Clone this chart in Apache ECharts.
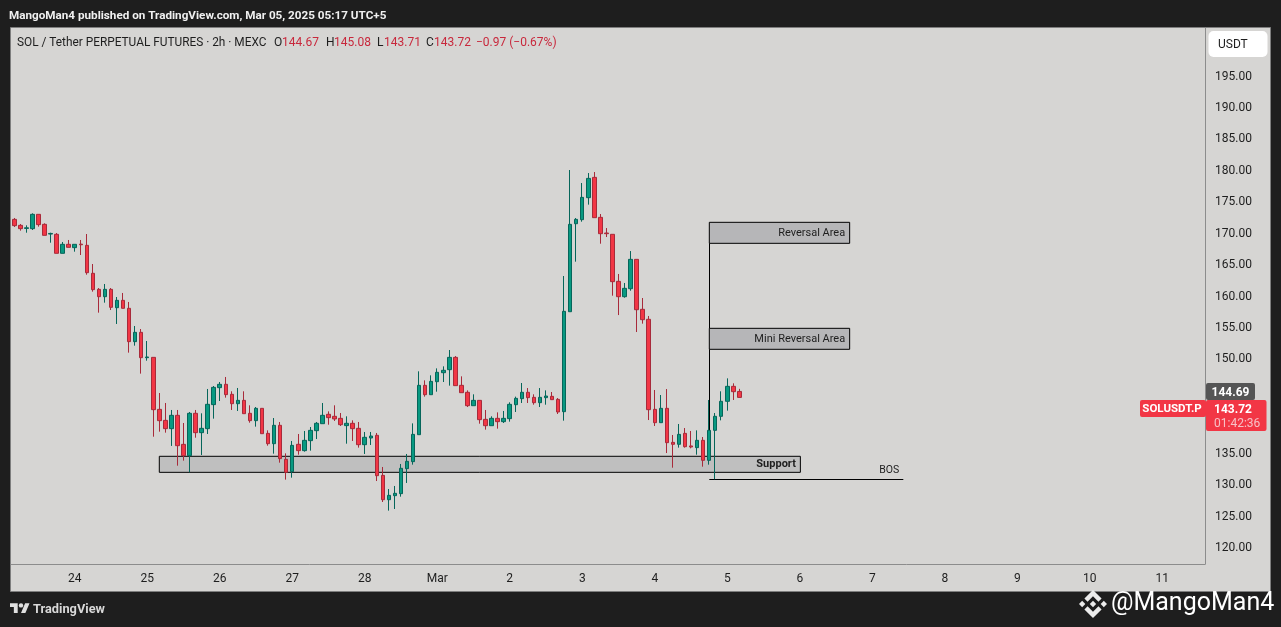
<!DOCTYPE html>
<html><head><meta charset="utf-8">
<style>html,body{margin:0;padding:0;background:#1e1e1e;overflow:hidden}#c{width:1281px;height:627px}</style>
<script src="https://cdn.jsdelivr.net/npm/echarts@6/dist/echarts.min.js"></script>
</head><body><div id="c"></div>
<script>
const opens=[172.04,171.09,170.6,170.56,172.84,171.25,169.7,169.66,166.64,168.07,167.54,168.1,167.91,163.46,160.91,159.74,160.91,157.99,159.16,157.89,152.59,154.07,150.04,150.09,141.82,140.07,138.75,140.87,136.25,134.45,141.19,138.11,138.75,142.57,145.27,145.8,144.21,142.72,143.25,141.19,140.02,141.98,138.0,136.36,139.28,133.87,131.91,136.26,135.25,136.84,138.43,139.54,141.03,140.71,140.39,139.23,139.6,138.8,136.2,137.26,137.69,131.32,127.45,128.09,128.41,132.39,133.5,137.79,145.64,144.15,146.22,147.65,148.13,150.09,145.64,144.53,142.4,143.25,140.23,139.22,140.39,139.86,140.34,142.56,143.52,144.53,143.73,142.88,143.68,143.89,143.41,141.45,157.35,171.35,171.99,175.49,178.72,172.36,169.87,169.66,162.18,159.74,161.01,165.68,157.73,156.14,141.82,139.7,141.98,136.57,136.26,138.0,136.0,135.73,136.89,133.71,138.48,140.71,143.1,145.48,144.67];
const closes=[171.04,170.56,170.7,172.84,171.2,169.5,169.8,166.64,168.07,167.59,168.07,168.0,163.56,160.86,159.74,160.91,158.05,159.16,157.89,152.59,154.07,150.04,150.15,141.77,140.02,138.75,140.87,136.04,134.45,141.19,138.11,138.8,142.62,145.32,145.8,144.16,142.72,143.25,141.13,140.02,141.98,137.95,136.36,139.28,133.98,131.8,136.09,135.25,136.89,138.48,139.6,140.87,140.5,140.29,139.38,139.6,138.75,136.2,137.37,137.58,131.27,127.45,128.14,128.46,132.44,133.55,137.84,145.64,144.15,146.27,147.71,148.03,150.09,145.59,144.47,142.4,143.25,140.18,139.22,140.39,139.86,140.39,142.62,143.57,144.53,143.68,142.88,143.73,143.94,143.36,141.4,157.41,171.25,172.04,175.54,178.56,172.31,169.76,169.76,162.13,159.74,161.07,165.68,157.67,156.08,141.77,139.7,141.98,136.52,136.26,137.84,135.88,135.83,136.89,133.71,138.48,140.71,143.1,145.48,144.63,143.72];
const lows=[170.83,170.24,169.92,170.35,170.88,169.5,168.33,166.64,166.64,167.59,166.9,166.37,163.24,160.54,157.2,158.79,157.62,155.4,157.89,150.84,151.95,147.5,149.56,137.47,138.27,138.11,136.0,132.86,133.66,131.8,137.31,134.56,137.9,140.34,143.15,143.68,141.72,141.56,141.13,139.7,139.07,137.95,136.04,134.77,133.34,130.64,130.95,134.61,135.09,135.25,137.1,139.54,139.38,139.97,139.17,136.36,136.79,135.73,134.72,136.15,130.42,127.08,125.71,125.97,127.93,130.11,133.02,137.79,143.84,144.15,144.63,146.17,145.59,145.59,144.47,142.19,142.4,139.54,138.59,139.22,138.75,139.65,139.86,141.4,142.83,142.83,142.56,142.19,142.56,143.36,141.08,140.02,157.35,165.31,171.67,174.38,172.31,168.17,169.23,159.9,156.82,159.58,160.69,154.12,155.45,140.12,139.17,139.7,134.87,132.54,135.73,135.73,135.62,134.61,132.7,133.02,130.69,140.07,141.61,143.31,143.71];
const highs=[172.26,171.3,171.09,173.0,172.84,171.41,169.92,169.87,168.44,168.76,168.07,168.76,169.71,164.94,161.12,161.76,161.12,159.69,160.33,158.9,155.08,154.6,152.69,150.09,144.42,142.83,141.72,141.72,139.65,141.4,141.72,141.19,145.06,145.53,146.17,146.97,144.69,145.22,144.69,142.46,142.19,141.98,138.48,140.44,139.81,134.82,136.79,137.9,138.38,139.01,139.81,142.83,141.5,142.46,141.24,140.71,140.07,139.81,138.22,138.22,138.06,132.65,129.15,129.63,133.13,134.72,139.59,147.87,146.43,147.23,148.34,148.66,151.26,150.3,147.07,144.84,144.21,143.25,141.72,140.71,141.34,141.56,142.94,143.84,146.01,145.21,144.21,145.21,144.84,144.58,143.62,163.03,179.89,172.25,177.82,179.41,179.57,172.89,170.66,169.66,163.35,161.92,167.0,165.68,159.53,156.67,144.9,144.1,145.05,137.74,139.49,138.85,138.38,138.48,137.42,143.31,141.24,144.69,146.75,145.96,145.08];
const dayTicks=[10,22,34,46,58,70,82,94,106,118,130,142,154,166,178,190];
const dayLabels=['24','25','26','27','28','Mar','2','3','4','5','6','7','8','9','10','11'];
const priceTicks=[120,125,130,135,150,155,160,165,170,175,180,185,190,195];
const support={name:'Support',x:[24,130.1],y:[131.8,134.35]};
const reversal={name:'Reversal Area',x:[115.03,138.26],y:[168.23,171.57]};
const miniReversal={name:'Mini Reversal Area',x:[115.03,138.26],y:[151.37,154.71]};
const bos={name:'BOS',x:[115.03,147.14],y:130.69};
const prevClose=144.69, lastPrice=143.72;

const FONT='Roboto, "Liberation Sans", sans-serif';
const INK='#1e1e1e', RED='#c8283c';
const candles=opens.map((o,i)=>[i,o,closes[i],lows[i],highs[i]]);
const box=(b,fill,extra)=>[{
  name:b.name,coord:[b.x[0],b.y[1]],
  itemStyle:{color:fill,borderColor:'#000',borderWidth:1},
  label:Object.assign({show:true,position:'insideRight',color:INK,fontSize:11,fontFamily:FONT,distance:5,offset:[0,0],formatter:b.name},extra||{})
},{coord:[b.x[1],b.y[0]]}];
const txt=(x,y,text,fill,size,weight,align)=>({type:'text',z:50,silent:true,x,y,style:{text,fill,font:(weight||'normal')+' '+size+'px '+FONT,textAlign:align||'left',textVerticalAlign:'middle'}});
const rect=(x,y,w,h,fill,r)=>({type:'rect',z:40,silent:true,shape:{x,y,width:w,height:h,r:r||0},style:{fill}});
const poly=(x,y,s,points,fill)=>({type:'polygon',z:50,silent:true,x,y,scaleX:s,scaleY:s,shape:{points},style:{fill}});

const chart=echarts.init(document.getElementById('c'),null,{renderer:'canvas',width:1281,height:627});
chart.setOption({
  animation:false,
  backgroundColor:'#1e1e1e',
  grid:{left:11,top:28,width:1194,height:536,containLabel:false},
  xAxis:{type:'value',min:-0.546,max:197.07,splitLine:{show:false},
    axisLine:{show:true,lineStyle:{color:'#8c8c8c',width:1},onZero:false},
    axisTick:{show:false,customValues:dayTicks},
    axisLabel:{customValues:dayTicks,color:INK,fontSize:12,fontFamily:FONT,margin:9,hideOverlap:false,showMinLabel:true,showMaxLabel:true,
      formatter:v=>dayLabels[dayTicks.indexOf(v)]||''}},
  yAxis:{type:'value',position:'right',min:117.22,max:202.48,splitLine:{show:false},scale:true,
    axisLine:{show:true,lineStyle:{color:'#8c8c8c',width:1},onZero:false},
    axisTick:{show:false,customValues:priceTicks},
    axisLabel:{customValues:priceTicks,color:INK,fontSize:12,fontFamily:FONT,margin:10,verticalAlign:'top',lineHeight:3,hideOverlap:false,formatter:v=>v.toFixed(2)}},
  series:[{
    type:'candlestick',data:candles,barWidth:4,clip:true,
    encode:{x:0,y:[1,2,3,4]},
    itemStyle:{color:'#089981',color0:'#f23645',borderColor:'#06665a',borderColor0:'#a82a3a',borderWidth:1},
    markArea:{silent:true,z:1,data:[box(support,'#bfbfbf',{fontWeight:'bold'}),box(reversal,'#b6b6b8'),box(miniReversal,'#b6b6b8')]},
    markLine:{silent:true,symbol:'none',z:1,lineStyle:{color:'#000',type:'solid',width:1},
      data:[
        [{coord:[reversal.x[0],reversal.y[0]]},{coord:[reversal.x[0],miniReversal.y[1]]}],
        [{coord:[reversal.x[0],miniReversal.y[0]]},{coord:[reversal.x[0],136]}],
        [{coord:[bos.x[0],bos.y],label:{show:true,formatter:bos.name,position:'insideEndTop',distance:[4,3],color:INK,fontSize:10.5,fontFamily:FONT}},{coord:[bos.x[1],bos.y]}]
      ]}
  }],
  graphic:{elements:[
    {type:'rect',z:-10,silent:true,shape:{x:10.5,y:27.5,width:1260,height:564},style:{fill:'#d6d5d3',stroke:'#7e7e7e',lineWidth:1}},
    txt(9,16,'MangoMan4 published on TradingView.com, Mar 05, 2025 05:17 UTC+5','#f0f0f0',11.7,'bold'),
    txt(17,43,'SOL / Tether PERPETUAL FUTURES · 2h · MEXC',INK,11.85),
    txt(274,43,'O',INK,12),txt(282,43,'144.67',RED,12),
    txt(326,43,'H',INK,12),txt(334,43,'145.08',RED,12),
    txt(377,43,'L',INK,12),txt(384,43,'143.71',RED,12),
    txt(426,43,'C',INK,12),txt(434,43,'143.72',RED,12),
    txt(476,43,'−0.97 (−0.67%)',RED,12),
    rect(1208.5,31,59,26,'#ffffff',5),
    txt(1218,45,'USDT',INK,12),
    rect(1206,383,49,17,'#555555',2),
    txt(1230.5,392.5,prevClose.toFixed(2),'#ffffff',12,'bold','center'),
    rect(1140,400,66,17,'#f23645',2),
    txt(1172,409.5,'SOLUSDT.P','#ffffff',11.5,'bold','center'),
    rect(1206,400,60.5,31,'#f23645',2),
    txt(1214,409.5,lastPrice.toFixed(2),'#ffffff',12,'bold'),
    txt(1214,424,'01:42:36','#f7c0c6',12,'normal'),
    poly(10,601,.55,[[14,22],[7,22],[7,11],[0,11],[0,4],[14,4]],'#e0e0e0'),
    poly(10,601,.55,[[28,22],[20,22],[27.5,4],[35.5,4]],'#e0e0e0'),
    {type:'circle',z:50,silent:true,x:10,y:601,scaleX:.55,scaleY:.55,shape:{cx:20,cy:8,r:4},style:{fill:'#e0e0e0'}},
    txt(33,609.5,'TradingView','#d8d8d8',12.8,'bold'),
    poly(1079,590,.221,[[38.73,53.2],[63.32,28.62],[87.92,53.22],[102.22,38.91],[63.32,0],[24.43,38.9]],'#ececec'),
    poly(1079,590,.221,[[0,63.31],[14.3,49],[28.61,63.31],[14.3,77.61]],'#ececec'),
    poly(1079,590,.221,[[38.73,73.41],[63.32,98],[87.92,73.4],[102.23,87.69],[63.33,126.6],[24.42,87.72]],'#ececec'),
    poly(1079,590,.221,[[98,63.31],[112.3,49],[126.61,63.3],[112.3,77.62]],'#ececec'),
    poly(1079,590,.221,[[63.32,48.78],[77.83,63.3],[63.32,77.8],[48.81,63.28]],'#ececec'),
    txt(1111,604,'@MangoMan4','#ffffff',25,'normal')
  ]}
});
</script></body></html>
